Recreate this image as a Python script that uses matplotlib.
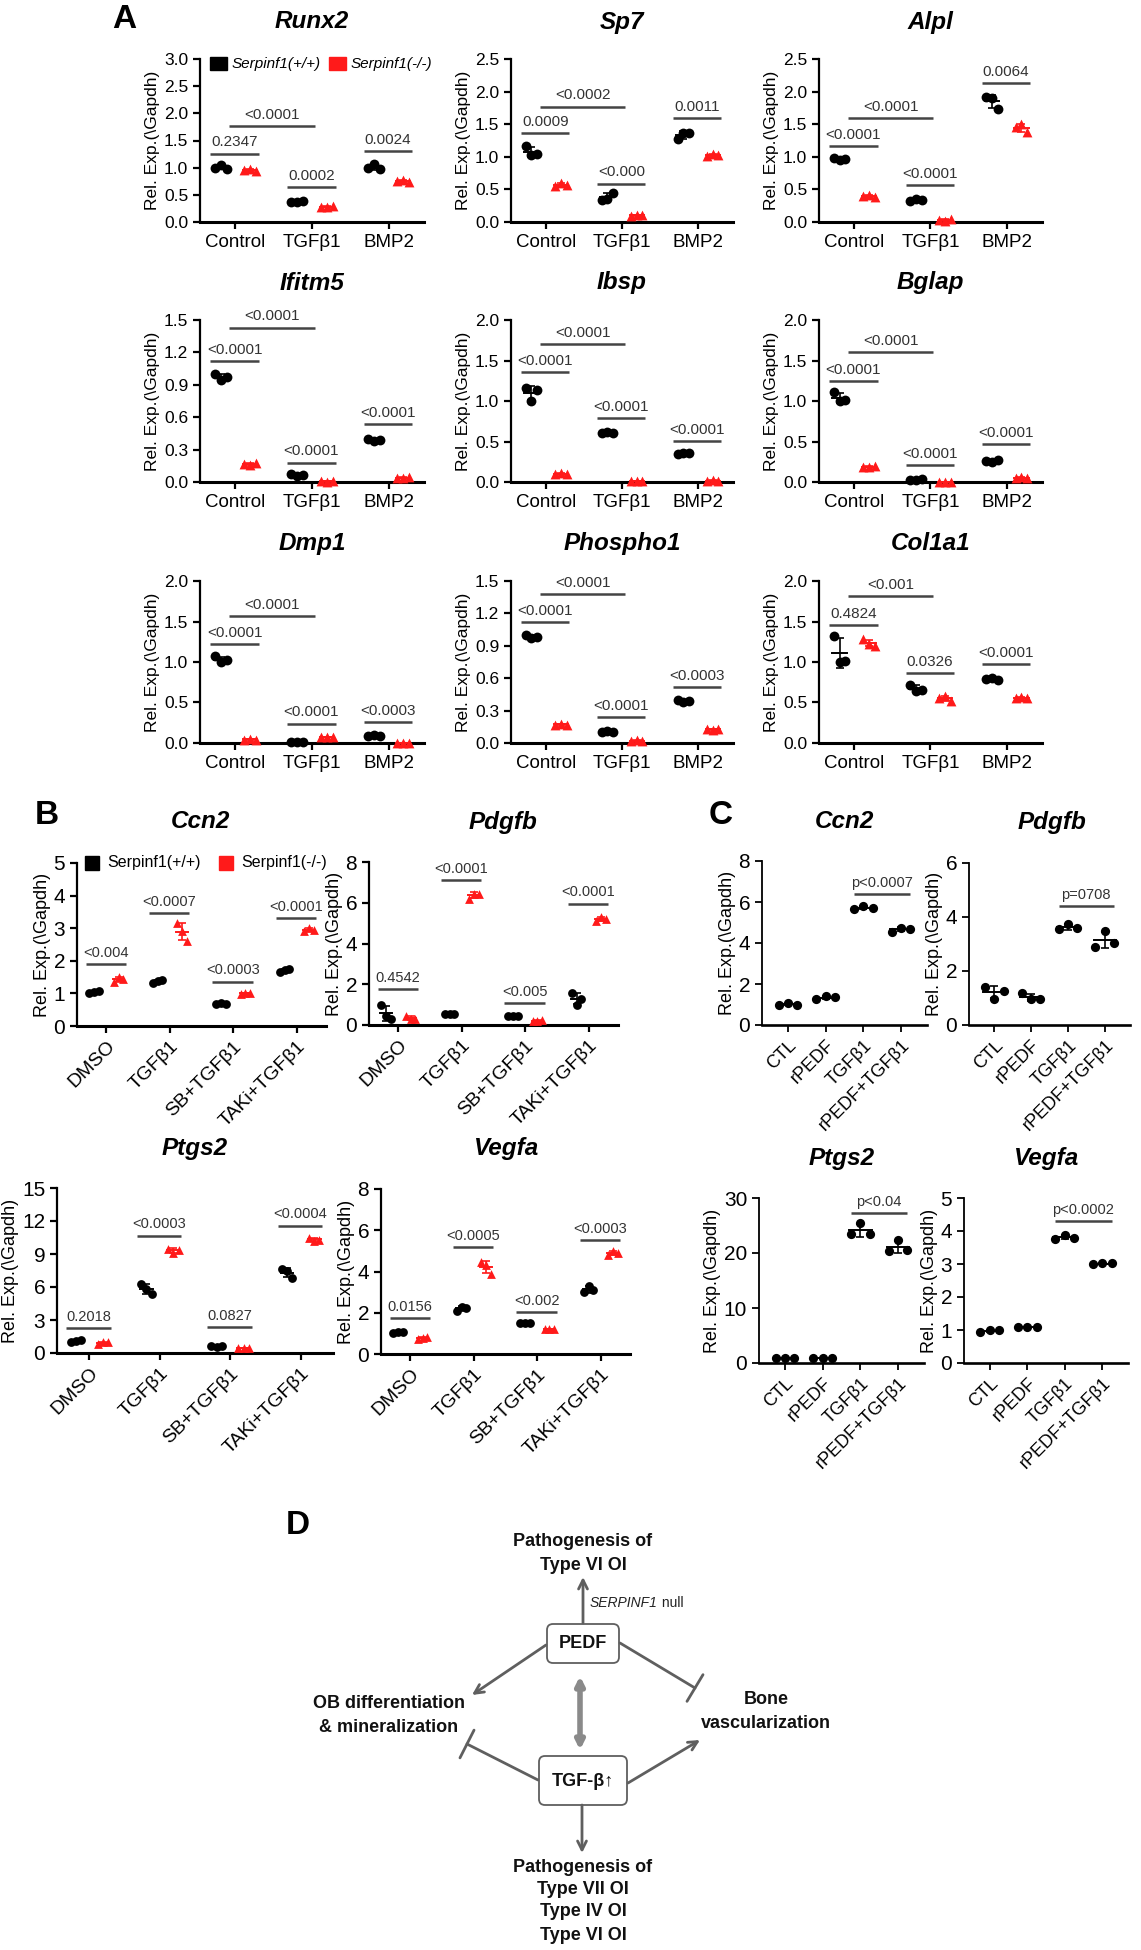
import numpy as np
import matplotlib
matplotlib.use("Agg")
import matplotlib.pyplot as plt
from matplotlib.patches import FancyBboxPatch, Rectangle

# ---------------- data ----------------
# panel A: osteoblast genes, three replicates per group
a_groups = ["Control", "TGFβ1", "BMP2"]

runx2_wt = [[1.00, 1.05, 0.98], [0.37, 0.36, 0.38], [0.99, 1.07, 0.98]]
runx2_ko = [[0.95, 0.98, 0.93], [0.28, 0.27, 0.29], [0.75, 0.77, 0.74]]
runx2_p = ["0.2347", "0.0002", "0.0024", "<0.0001"]
runx2_p_y = [1.26, 0.64, 1.30, 1.76]

sp7_wt = [[1.16, 1.02, 1.05], [0.34, 0.35, 0.45], [1.27, 1.36, 1.37]]
sp7_ko = [[0.55, 0.60, 0.57], [0.09, 0.11, 0.10], [1.01, 1.05, 1.03]]
sp7_p = ["0.0009", "<0.000", "0.0011", "<0.0002"]
sp7_p_y = [1.36, 0.59, 1.60, 1.77]

alpl_wt = [[0.98, 0.95, 0.97], [0.32, 0.35, 0.33], [1.92, 1.90, 1.74]]
alpl_ko = [[0.40, 0.42, 0.38], [0.03, 0.02, 0.04], [1.45, 1.50, 1.38]]
alpl_p = ["<0.0001", "<0.0001", "0.0064", "<0.0001"]
alpl_p_y = [1.17, 0.56, 2.13, 1.60]

ifitm5_wt = [[1.00, 0.94, 0.97], [0.07, 0.06, 0.065], [0.40, 0.38, 0.39]]
ifitm5_ko = [[0.17, 0.16, 0.18], [0.005, 0.004, 0.006], [0.04, 0.035, 0.045]]
ifitm5_p = ["<0.0001", "<0.0001", "<0.0001", "<0.0001"]
ifitm5_p_y = [1.12, 0.18, 0.54, 1.43]

ibsp_wt = [[1.16, 1.00, 1.13], [0.60, 0.62, 0.61], [0.35, 0.36, 0.355]]
ibsp_ko = [[0.10, 0.11, 0.10], [0.01, 0.012, 0.01], [0.015, 0.02, 0.01]]
ibsp_p = ["<0.0001", "<0.0001", "<0.0001", "<0.0001"]
ibsp_p_y = [1.36, 0.79, 0.51, 1.70]

bglap_wt = [[1.11, 1.00, 1.01], [0.03, 0.03, 0.035], [0.26, 0.25, 0.27]]
bglap_ko = [[0.19, 0.18, 0.20], [0.003, 0.004, 0.002], [0.05, 0.06, 0.05]]
bglap_p = ["<0.0001", "<0.0001", "<0.0001", "<0.0001"]
bglap_p_y = [1.25, 0.21, 0.47, 1.60]

dmp1_wt = [[1.07, 1.00, 1.02], [0.01, 0.01, 0.012], [0.09, 0.10, 0.09]]
dmp1_ko = [[0.04, 0.05, 0.04], [0.07, 0.075, 0.07], [0.002, 0.003, 0.002]]
dmp1_p = ["<0.0001", "<0.0001", "<0.0003", "<0.0001"]
dmp1_p_y = [1.22, 0.24, 0.26, 1.57]

phospho1_wt = [[1.00, 0.97, 0.98], [0.10, 0.11, 0.105], [0.40, 0.38, 0.39]]
phospho1_ko = [[0.17, 0.18, 0.17], [0.02, 0.025, 0.02], [0.13, 0.12, 0.13]]
phospho1_p = ["<0.0001", "<0.0001", "<0.0003", "<0.0001"]
phospho1_p_y = [1.12, 0.24, 0.52, 1.38]

col1a1_wt = [[1.32, 1.00, 1.01], [0.72, 0.64, 0.65], [0.79, 0.80, 0.78]]
col1a1_ko = [[1.28, 1.22, 1.20], [0.56, 0.58, 0.52], [0.56, 0.57, 0.55]]
col1a1_p = ["0.4824", "0.0326", "<0.0001", "<0.001"]
col1a1_p_y = [1.46, 0.86, 0.97, 1.81]

# panel B: inhibitors
b_groups = ["DMSO", "TGFβ1", "SB+TGFβ1", "TAKi+TGFβ1"]

ccn2_wt = [[1.00, 1.05, 1.06], [1.32, 1.38, 1.40], [0.68, 0.70, 0.69], [1.65, 1.72, 1.75]]
ccn2_ko = [[1.35, 1.50, 1.45], [3.15, 2.90, 2.62], [0.98, 1.02, 1.00], [2.90, 3.00, 2.95]]
ccn2_p = ["<0.004", "<0.0007", "<0.0003", "<0.0001"]
ccn2_p_y = [1.89, 3.47, 1.36, 3.32]

pdgfb_wt = [[1.00, 0.45, 0.28], [0.52, 0.56, 0.54], [0.42, 0.42, 0.42], [1.55, 1.00, 1.30]]
pdgfb_ko = [[0.45, 0.30, 0.28], [6.20, 6.45, 6.45], [0.22, 0.20, 0.24], [5.10, 5.30, 5.20]]
pdgfb_p = ["0.4542", "<0.0001", "<0.005", "<0.0001"]
pdgfb_p_y = [1.78, 7.13, 1.07, 5.96]

ptgs2_wt = [[1.00, 1.10, 1.20], [6.30, 5.80, 5.40], [0.60, 0.58, 0.62], [7.60, 7.50, 6.80]]
ptgs2_ko = [[0.85, 1.00, 1.00], [9.50, 9.10, 9.40], [0.45, 0.42, 0.48], [10.50, 10.20, 10.30]]
ptgs2_p = ["0.2018", "<0.0003", "0.0827", "<0.0004"]
ptgs2_p_y = [2.27, 10.67, 2.36, 11.58]

vegfa_wt = [[1.00, 1.05, 1.08], [2.10, 2.30, 2.25], [1.50, 1.48, 1.49], [3.00, 3.30, 3.10]]
vegfa_ko = [[0.75, 0.80, 0.82], [4.45, 4.30, 3.90], [1.20, 1.22, 1.21], [4.80, 5.00, 4.90]]
vegfa_p = ["0.0156", "<0.0005", "<0.002", "<0.0003"]
vegfa_p_y = [1.73, 5.17, 2.02, 5.54]

# panel C: recombinant PEDF
c_groups = ["CTL", "rPEDF", "TGFβ1", "rPEDF+TGFβ1"]
ccn2_c = [[1.00, 1.05, 1.00], [1.25, 1.42, 1.35], [5.65, 5.80, 5.70], [4.55, 4.75, 4.70]]
pdgfb_c = [[1.40, 0.98, 1.27], [1.18, 0.95, 0.95], [3.55, 3.75, 3.60], [2.90, 3.50, 3.05]]
ptgs2_c = [[1.0, 1.0, 1.0], [1.0, 1.0, 1.0], [23.4, 25.5, 23.5], [20.4, 22.4, 20.5]]
vegfa_c = [[0.95, 1.00, 1.00], [1.10, 1.10, 1.10], [3.75, 3.88, 3.80], [3.00, 3.02, 3.02]]
c_p = ["p<0.0007", "p=0708", "p<0.04", "p<0.0002"]
c_p_y = [6.4, 4.4, 27.3, 4.3]

ylabel = "Rel. Exp.(\\Gapdh)"

# ---------------- drawing ----------------
plt.rcParams["font.family"] = ["Liberation Sans", "DejaVu Sans"]
W, H = 1141, 1950
fig = plt.figure(figsize=(W / 100, H / 100), dpi=100)
GRAY = "#444444"
RED = "#ff1a1a"


def px_axes(x0, x1, y0, y1):
    return fig.add_axes([x0 / W, 1 - y1 / H, (x1 - x0) / W, (y1 - y0) / H])


def style(ax, top, step, tick_fs, lw=1.6):
    for s in ("top", "right"):
        ax.spines[s].set_visible(False)
    ax.spines["left"].set_linewidth(lw)
    ax.spines["bottom"].set_linewidth(lw + 0.6)
    ax.set_ylim(0, top)
    ax.set_yticks(np.arange(0, top + step / 2, step))
    ax.tick_params(width=lw, length=5, labelsize=tick_fs, direction="out")


def group(ax, x, vals, color, marker, s, dx):
    offs = np.array([-dx, 0, dx])
    ax.scatter(x + offs, vals, s=s, color=color, marker=marker, zorder=3, clip_on=False, linewidths=0)
    m, sd = np.mean(vals), np.std(vals, ddof=1)
    ax.errorbar(x, m, yerr=sd, color=color, capsize=3, elinewidth=1.2, capthick=1.2, zorder=4)
    ax.plot([x - 1.2 * dx, x + 1.2 * dx], [m, m], color=color, lw=1.4, zorder=4)


def sig(ax, x1, x2, y, label, fs):
    ax.plot([x1, x2], [y, y], color=GRAY, lw=1.8, clip_on=False, solid_capstyle="butt")
    ax.annotate(label, ((x1 + x2) / 2, y), xytext=(0, 3), textcoords="offset points",
                ha="center", va="bottom", fontsize=fs, color="#333333", annotation_clip=False)


def pair_panel(ax, groups, wt, ko, pv, py, top, step, tick_fs, cat_fs, p_fs, rot, s, long_bar):
    gap = 2.6
    for i in range(len(groups)):
        group(ax, i * gap, wt[i], "black", "o", s, 0.2)
        group(ax, i * gap + 1, ko[i], RED, "^", s, 0.2)
        sig(ax, i * gap - 0.35, i * gap + 1.3, py[i], pv[i], p_fs)
    if long_bar:
        sig(ax, 0.3, gap + 0.6, py[-1], pv[-1], p_fs)
    ax.set_xlim(-0.7, (len(groups) - 1) * gap + 1.7)
    style(ax, top, step, tick_fs)
    ax.set_xticks([i * gap + 0.5 for i in range(len(groups))])
    if rot:
        ax.set_xticklabels(groups, rotation=45, ha="right", rotation_mode="anchor", fontsize=cat_fs)
    else:
        ax.set_xticklabels(groups, fontsize=cat_fs)


# ----- panel A
a_sets = [("Runx2", runx2_wt, runx2_ko, runx2_p, runx2_p_y, 3.0, 0.5),
          ("Sp7", sp7_wt, sp7_ko, sp7_p, sp7_p_y, 2.5, 0.5),
          ("Alpl", alpl_wt, alpl_ko, alpl_p, alpl_p_y, 2.5, 0.5),
          ("Ifitm5", ifitm5_wt, ifitm5_ko, ifitm5_p, ifitm5_p_y, 1.5, 0.3),
          ("Ibsp", ibsp_wt, ibsp_ko, ibsp_p, ibsp_p_y, 2.0, 0.5),
          ("Bglap", bglap_wt, bglap_ko, bglap_p, bglap_p_y, 2.0, 0.5),
          ("Dmp1", dmp1_wt, dmp1_ko, dmp1_p, dmp1_p_y, 2.0, 0.5),
          ("Phospho1", phospho1_wt, phospho1_ko, phospho1_p, phospho1_p_y, 1.5, 0.3),
          ("Col1a1", col1a1_wt, col1a1_ko, col1a1_p, col1a1_p_y, 2.0, 0.5)]
a_cols = [(200, 424), (511, 733), (819, 1042)]
a_rows = [(59, 222), (320, 482), (581, 743)]
a_title_y = [22, 283, 543]

for k, (name, wt, ko, pv, py, top, step) in enumerate(a_sets):
    r, c = divmod(k, 3)
    ax = px_axes(a_cols[c][0], a_cols[c][1], a_rows[r][0], a_rows[r][1])
    pair_panel(ax, a_groups, wt, ko, pv, py, top, step, 12.5, 13.5, 11, False, 50, True)
    ax.set_yticklabels([f"{v:.1f}" for v in ax.get_yticks()])
    ax.set_ylabel(ylabel, fontsize=12.5, labelpad=3)
    fig.text((a_cols[c][0] + a_cols[c][1]) / 2 / W, 1 - a_title_y[r] / H, name,
             ha="center", va="center", fontsize=17.5, fontweight="bold", style="italic")
    if k == 0:
        for xs, col, lab in [(210, "black", "Serpinf1(+/+)"), (329, RED, "Serpinf1(-/-)")]:
            fig.add_artist(Rectangle((xs / W, 1 - 70 / H), 17 / W, 13 / H, color=col,
                                     transform=fig.transFigure))
            fig.text((xs + 22) / W, 1 - 64 / H, lab, fontsize=11, style="italic", va="center")

# ----- panel B
b_sets = [("Ccn2", ccn2_wt, ccn2_ko, ccn2_p, ccn2_p_y, 5, 1, (77, 326, 863, 1026), (201, 822)),
          ("Pdgfb", pdgfb_wt, pdgfb_ko, pdgfb_p, pdgfb_p_y, 8, 2, (369, 618, 862, 1025), (503, 822)),
          ("Ptgs2", ptgs2_wt, ptgs2_ko, ptgs2_p, ptgs2_p_y, 15, 3, (57, 333, 1188, 1353), (195, 1148)),
          ("Vegfa", vegfa_wt, vegfa_ko, vegfa_p, vegfa_p_y, 8, 2, (381, 630, 1189, 1354), (507, 1148))]
for k, (name, wt, ko, pv, py, top, step, box, tpos) in enumerate(b_sets):
    ax = px_axes(*box)
    pair_panel(ax, b_groups, wt, ko, pv, py, top, step, 15, 14, 10.5, True, 40, False)
    ax.set_ylabel(ylabel, fontsize=13, labelpad=2)
    fig.text(tpos[0] / W, 1 - tpos[1] / H, name, ha="center", va="center",
             fontsize=17.5, fontweight="bold", style="italic")
    if k == 0:
        for xs, col, lab in [(85, "black", "Serpinf1(+/+)"), (219, RED, "Serpinf1(-/-)")]:
            fig.add_artist(Rectangle((xs / W, 1 - 870 / H), 14 / W, 14 / H, color=col,
                                     transform=fig.transFigure))
            fig.text((xs + 22) / W, 1 - 863 / H, lab, fontsize=11.5, va="center")

# ----- panel C
c_sets = [("Ccn2", ccn2_c, 8, 2, (762, 927, 861, 1025), (845, 822)),
          ("Pdgfb", pdgfb_c, 6, 2, (969, 1130, 863, 1025), (1052, 822)),
          ("Ptgs2", ptgs2_c, 30, 10, (759, 924, 1198, 1363), (842, 1158)),
          ("Vegfa", vegfa_c, 5, 1, (964, 1128, 1198, 1363), (1047, 1158))]
for k, (name, vals, top, step, box, tpos) in enumerate(c_sets):
    ax = px_axes(*box)
    for i in range(len(c_groups)):
        group(ax, i, vals[i], "black", "o", 44, 0.25)
    sig(ax, 1.75, 3.25, c_p_y[k], c_p[k], 10.5)
    ax.set_xlim(-0.69, 3.69)
    style(ax, top, step, 15, lw=1.3)
    ax.set_xticks(range(len(c_groups)))
    ax.set_xticklabels(c_groups, rotation=45, ha="right", rotation_mode="anchor", fontsize=13)
    ax.set_ylabel(ylabel, fontsize=13, labelpad=2)
    fig.text(tpos[0] / W, 1 - tpos[1] / H, name, ha="center", va="center",
             fontsize=17.5, fontweight="bold", style="italic")

# ----- panel D: schematic
axd = fig.add_axes([0, 0, 1, 1])
axd.set_xlim(0, W)
axd.set_ylim(H, 0)
axd.axis("off")
axd.patch.set_alpha(0)
DG = "#5f5f5f"
bold = dict(ha="center", va="center", fontsize=13, fontweight="bold", color="#111111")


def arrow(x1, y1, x2, y2, st="->", lw=2, col=DG, ms=16):
    axd.annotate("", xy=(x2, y2), xytext=(x1, y1),
                 arrowprops=dict(arrowstyle=st, color=col, lw=lw, shrinkA=0, shrinkB=0, mutation_scale=ms))


axd.text(583, 1542, "Pathogenesis of", **bold)
axd.text(583, 1565, "Type VI OI", **bold)
arrow(583, 1623, 583, 1577)
t_ser = axd.text(590, 1603, "SERPINF1", fontsize=10, style="italic", va="center", color="#222222")
axd.annotate(" null", xy=(1, 0.5), xycoords=t_ser, va="center", fontsize=10, color="#222222")
axd.add_patch(FancyBboxPatch((547, 1624), 72, 39, boxstyle="round,pad=0,rounding_size=6",
                             fc="white", ec=DG, lw=1.3))
axd.text(583, 1644, "PEDF", **bold)
axd.add_patch(FancyBboxPatch((539, 1756), 88, 49, boxstyle="round,pad=0,rounding_size=6",
                             fc="white", ec=DG, lw=1.3))
axd.text(583, 1781, "TGF-β↑", **bold)
arrow(580, 1676, 580, 1750, st="<|-|>", lw=4, col="#8a8a8a", ms=12)
axd.text(389, 1704, "OB differentiation", **bold)
axd.text(389, 1728, "& mineralization", **bold)
axd.text(766, 1699, "Bone", **bold)
axd.text(766, 1723, "vascularization", **bold)
arrow(546, 1645, 472, 1695)
arrow(620, 1643, 695, 1688, st="-[, widthB=0.7, lengthB=0")
arrow(538, 1780, 467, 1744, st="-[, widthB=0.7, lengthB=0")
arrow(628, 1783, 700, 1740)
arrow(582, 1805, 582, 1853)
for yy, t in zip([1868, 1890, 1912, 1935], ["Pathogenesis of", "Type VII OI", "Type IV OI", "Type VI OI"]):
    axd.text(583, yy, t, **bold)

# panel letters
for lab, x, y in [("A", 124, 20), ("B", 47, 815), ("C", 721, 816), ("D", 298, 1526)]:
    fig.text(x / W, 1 - y / H, lab, ha="center", va="center", fontsize=24, fontweight="bold")

fig.savefig("out.png", dpi=100)
